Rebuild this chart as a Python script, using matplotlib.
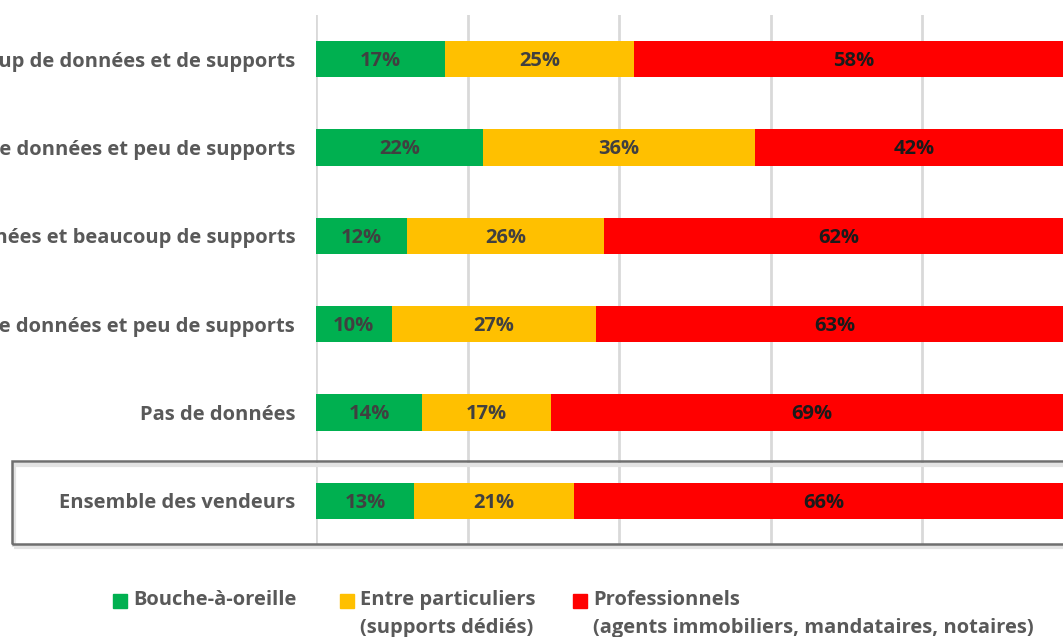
import matplotlib.pyplot as plt
from matplotlib.patches import Rectangle
import numpy as np

plt.rcParams['font.family'] = ['Open Sans', 'DejaVu Sans']

categories = ['Beaucoup de données et de supports',
              'Beaucoup de données et peu de supports',
              'Peu de données et beaucoup de supports',
              'Peu de données et peu de supports',
              'Pas de données',
              'Ensemble des vendeurs']
bouche = [17, 22, 12, 10, 14, 13]
particuliers = [25, 36, 26, 27, 17, 21]
pros = [58, 42, 62, 63, 69, 66]
series_names = ['Bouche-à-oreille',
                'Entre particuliers\n(supports dédiés)',
                'Professionnels\n(agents immobiliers, mandataires, notaires)']
colors = ['#00B050', '#FFC000', '#FF0000']
text_colors = ['#404040', '#404040', '#1a1a1a']

W, H = 1063, 637
fig = plt.figure(figsize=(W / 100, H / 100), dpi=100)
ax = fig.add_axes([316 / W, 1 - 545 / H, 757.5 / W, 530 / H])

y = np.arange(len(categories))
left = np.zeros(len(categories))
for vals, col, tcol, name in zip([bouche, particuliers, pros], colors, text_colors, series_names):
    vals = np.array(vals)
    ax.barh(y, vals, left=left, height=0.41, color=col, label=name, zorder=3)
    for yi, l, v in zip(y, left, vals):
        ax.text(l + v / 2, yi + 0.02, f'{v}%', ha='center', va='center',
                fontsize=14.5, fontweight='bold', color=tcol, zorder=4)
    left = left + vals

ax.set_xlim(0, 100)
ax.set_ylim(len(categories) - 0.5, -0.5)
ax.set_xticks(np.arange(0, 101, 20))
ax.set_xticklabels([])
ax.tick_params(length=0)
ax.set_yticks(y)
ax.set_yticklabels(categories, fontsize=14.5, fontweight='bold', color='#595959')
ax.tick_params(axis='y', pad=15)
ax.grid(axis='x', color='#d9d9d9', linewidth=2, zorder=0)
for s in ax.spines.values():
    s.set_visible(False)

# box around "Ensemble des vendeurs"
fig.patches.append(Rectangle((14 / W, 1 - 547 / H), 1060 / W, 82 / H,
                             transform=fig.transFigure, fill=False,
                             edgecolor='#e3e3e3', linewidth=3, zorder=1))
fig.patches.append(Rectangle((12 / W, 1 - 544 / H), 1060 / W, 83 / H,
                             transform=fig.transFigure, fill=False,
                             edgecolor='#6f6f6f', linewidth=1.8, zorder=2))

# legend
leg_x = [113, 340, 573]
for lx, col, name in zip(leg_x, colors, series_names):
    fig.patches.append(Rectangle((lx / W, 1 - 608 / H), 14 / W, 14 / H,
                                 transform=fig.transFigure, color=col))
    fig.text((lx + 20) / W, 1 - 590 / H, name, ha='left', va='top',
             fontsize=14.5, fontweight='bold', color='#595959', linespacing=1.5)

fig.savefig('out.png', dpi=100)
